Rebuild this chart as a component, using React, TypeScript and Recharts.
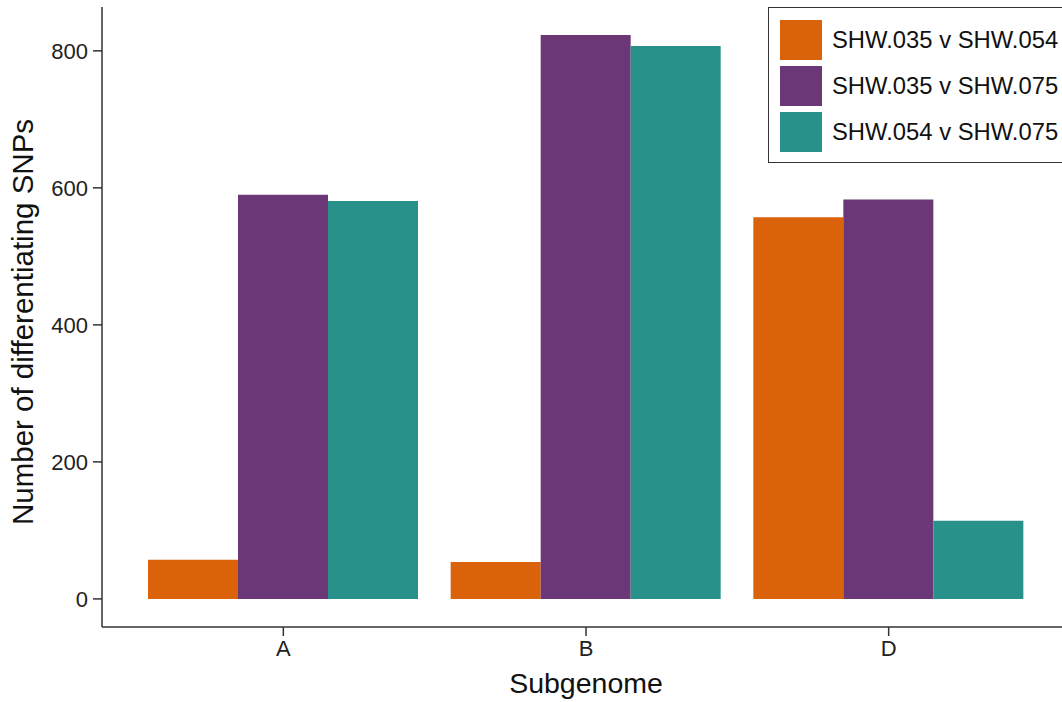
import { BarChart, Bar, XAxis, YAxis, Legend } from 'recharts';

const subgenomes = ['A', 'B', 'D'];
const snp035v054 = [57, 54, 557];
const snp035v075 = [590, 823, 583];
const snp054v075 = [581, 807, 114];
const yTicks = [0, 200, 400, 600, 800];

const seriesNames = ['SHW.035 v SHW.054', 'SHW.035 v SHW.075', 'SHW.054 v SHW.075'];
const seriesColors = ['#d9620b', '#6b3776', '#27918a'];

const data = subgenomes.map((s, i) => ({
  subgenome: s,
  s1: snp035v054[i],
  s2: snp035v075[i],
  s3: snp054v075[i],
}));

const font = '"Liberation Sans", Arial, Helvetica, sans-serif';

function LegendBox() {
  return (
    <div
      style={{
        border: '1.5px solid #333',
        background: '#fff',
        padding: '9px 12px 7px 11px',
        fontFamily: font,
        width: 320,
      }}
    >
      {seriesNames.map((name, i) => (
        <div key={name} style={{ display: 'flex', alignItems: 'center', height: 46 }}>
          <div style={{ width: 42, height: 40, background: seriesColors[i], marginRight: 10 }} />
          <span style={{ fontSize: 23.8, color: '#111', whiteSpace: 'nowrap' }}>{name}</span>
        </div>
      ))}
    </div>
  );
}

export default function App() {
  return (
    <div
      style={{
        position: 'absolute',
        left: 0,
        top: 0,
        width: 1062,
        height: 702,
        overflow: 'hidden',
        background: '#fff',
      }}
    >
      <BarChart
        width={1070}
        height={702}
        data={data}
        margin={{ top: 7, right: 0, bottom: 0, left: 0 }}
        barGap={0}
        barCategoryGap={16}
        style={{ fontFamily: font }}
      >
        <XAxis
          xAxisId="top"
          orientation="top"
          dataKey="subgenome"
          height={0}
          tick={false}
          tickLine={false}
          axisLine={{ stroke: '#333', strokeWidth: 1.5 }}
        />
        <XAxis
          dataKey="subgenome"
          height={75}
          padding={{ left: 30, right: 30 }}
          tickSize={9}
          tickMargin={4}
          tick={{ fill: '#222', fontSize: 22 }}
          tickLine={{ stroke: '#333', strokeWidth: 1.5 }}
          axisLine={{ stroke: '#333', strokeWidth: 1.5 }}
          label={{ value: 'Subgenome', position: 'insideBottom', offset: 9, fill: '#111', fontSize: 28.5 }}
        />
        <YAxis
          width={102}
          domain={[-41, 864]}
          ticks={yTicks}
          allowDataOverflow
          tickSize={9}
          tickMargin={5}
          tick={{ fill: '#222', fontSize: 22 }}
          tickLine={{ stroke: '#333', strokeWidth: 1.5 }}
          axisLine={{ stroke: '#333', strokeWidth: 1.5 }}
          label={{
            value: 'Number of differentiating SNPs',
            angle: -90,
            position: 'insideLeft',
            offset: 23,
            dy: 5,
            fill: '#111',
            fontSize: 29.5,
            style: { textAnchor: 'middle' },
          }}
        />
        <Legend
          layout="vertical"
          align="center"
          verticalAlign="middle"
          content={<LegendBox />}
          wrapperStyle={{ position: 'absolute', left: 768, top: 7, width: 340 }}
        />
        <Bar dataKey="s1" name={seriesNames[0]} fill={seriesColors[0]} isAnimationActive={false} />
        <Bar dataKey="s2" name={seriesNames[1]} fill={seriesColors[1]} isAnimationActive={false} />
        <Bar dataKey="s3" name={seriesNames[2]} fill={seriesColors[2]} isAnimationActive={false} />
      </BarChart>
    </div>
  );
}
